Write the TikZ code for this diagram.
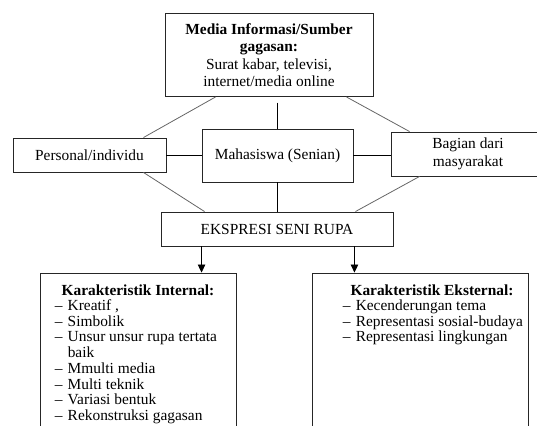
\documentclass[tikz,border=0pt]{standalone}
\usepackage{fontspec}
\setmainfont{Liberation Serif}
\usetikzlibrary{calc, arrows.meta}
\newcommand\itm[1]{\makebox[13pt][l]{–}#1}

\begin{document}
\begin{tikzpicture}[x=1pt, y=-1pt,
    infobox/.style={draw=black!85, line width=0.9pt, fill=white, inner sep=0pt,
      font=\fontsize{15.4}{17.5}\selectfont, align=center},
    listtext/.style={inner sep=0pt, font=\fontsize{15.4}{15.7}\selectfont, align=left},
    link/.style={draw=black, line width=0.8pt},
    slant/.style={draw=black!60, line width=0.8pt},
    flow/.style={draw=black, line width=0.8pt, -{Triangle[length=8pt,width=7.5pt]}}]
  \useasboundingbox (0,0) rectangle (537,425);
  \clip (0,0) rectangle (537,425);
  % top row
  \node[infobox, minimum width=208pt, minimum height=83pt] (media) at (269,55)
    {\textbf{Media Informasi/Sumber}\\\textbf{gagasan:}\\Surat kabar, televisi,\\internet/media online};
  % middle row
  \node[infobox, minimum width=153pt, minimum height=34pt] (personal) at (89.5,155) {Personal/individu};
  \node[infobox, minimum width=151pt, minimum height=53pt] (mhs) at (277.5,155.5) {Mahasiswa (Senian)};
  \node[infobox, minimum width=154pt, minimum height=44pt] (bagian) at (468,154) {Bagian dari\\masyarakat};
  \node[infobox, minimum width=232pt, minimum height=34pt] (ekspresi) at (277,229) {EKSPRESI SENI RUPA};
  % bottom boxes
  \node[infobox, minimum width=196pt, minimum height=172pt] (intbox) at (138,359) {};
  \node[infobox, minimum width=216pt, minimum height=172pt] (extbox) at (420,359) {};
  \node[listtext, font=\fontsize{15.4}{16}\selectfont\bfseries] (inttitle) at ($(intbox.north)+(0,18)$) {Karakteristik Internal:};
  \node[listtext, anchor=north west] (intlist) at ($(intbox.north west)+(15,27)$)
    {\itm{Kreatif ,}\\\itm{Simbolik}\\\itm{Unsur unsur rupa tertata}\\\hspace*{13pt}baik\\
     \itm{Mmulti media}\\\itm{Multi teknik}\\\itm{Variasi bentuk}\\\itm{Rekonstruksi gagasan}};
  \node[listtext, font=\fontsize{15.4}{16}\selectfont\bfseries] (exttitle) at ($(extbox.north)+(12,18)$) {Karakteristik Eksternal:};
  \node[listtext, anchor=north west] (extlist) at ($(extbox.north west)+(31,27)$)
    {\itm{Kecenderungan tema}\\\itm{Representasi sosial-budaya}\\\itm{Representasi lingkungan}};
  % connectors
  \coordinate (mhsup) at ($(mhs.north)+(0,-26)$);
  \coordinate (ekL) at ($(ekspresi.south west)+(41,0)$);
  \coordinate (ekR) at ($(ekspresi.south east)+(-39,0)$);
  \draw[slant] ($(media.south west)+(51,0)$) -- ($(personal.north east)+(-23,0)$);
  \draw[slant] ($(media.south east)+(-27,0)$) -- ($(bagian.north west)+(19,0)$);
  \draw[link] (mhsup) -- (mhs.north);
  \draw[link] (personal.east) -- (personal.east -| mhs.west);
  \draw[link] (mhs.east) -- (mhs.east -| bagian.west);
  \draw[slant] ($(personal.south east)+(-23,0)$) -- ($(ekspresi.north west)+(44,0)$);
  \draw[slant] ($(bagian.south west)+(29,0)$) -- ($(ekspresi.north east)+(-38,0)$);
  \draw[link] (mhs.south) -- (mhs.south |- ekspresi.north);
  \draw[flow] (ekL) -- (ekL |- intbox.north);
  \draw[flow] (ekR) -- (ekR |- extbox.north);
\end{tikzpicture}
\end{document}
